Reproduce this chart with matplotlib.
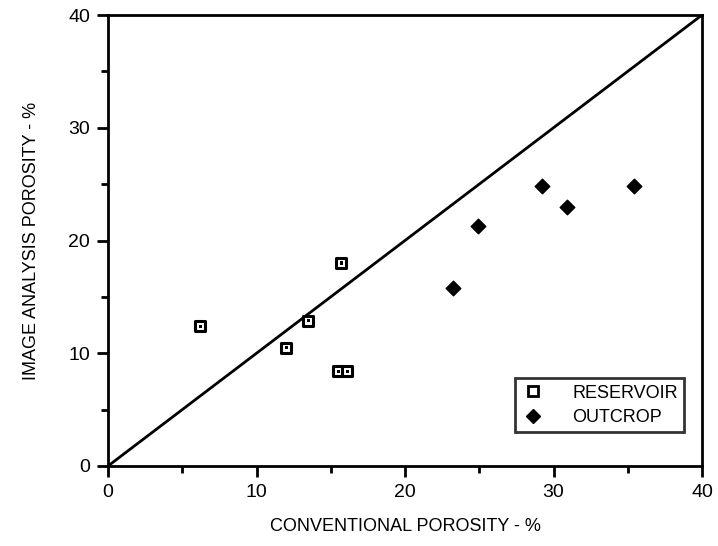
import matplotlib
matplotlib.use("Agg")
import matplotlib.pyplot as plt
from matplotlib.lines import Line2D

plt.rcParams['font.family'] = ['Liberation Sans', 'DejaVu Sans']

res_x = [6.2, 12.0, 13.5, 15.7, 15.5, 16.1]
res_y = [12.4, 10.5, 12.9, 18.0, 8.4, 8.4]
out_x = [23.2, 24.9, 29.2, 30.9, 35.4]
out_y = [15.8, 21.3, 24.8, 23.0, 24.8]
x_ticks = [0, 10, 20, 30, 40]
y_ticks = [0, 10, 20, 30, 40]
x_label = "CONVENTIONAL POROSITY - %"
y_label = "IMAGE ANALYSIS POROSITY - %"

fig = plt.figure(figsize=(7.18, 5.46), dpi=100)
ax = fig.add_axes([108/718, 1-466/546, (702-108)/718, (466-15)/546])

ax.plot([0, 40], [0, 40], color='black', lw=2.0, zorder=2)
ax.scatter(res_x, res_y, marker='s', s=55, facecolor='white', edgecolor='black',
           linewidths=2.2, zorder=3)
ax.scatter(res_x, res_y, marker='s', s=5, facecolor='black', edgecolor='none', zorder=4)
ax.scatter(out_x, out_y, marker='D', s=55, facecolor='black', edgecolor='black', zorder=3)

ax.set_xlim(0, 40)
ax.set_ylim(0, 40)
ax.set_xticks(x_ticks)
ax.set_yticks(y_ticks)
ax.set_xticks([5, 15, 25, 35], minor=True)
ax.set_yticks([5, 15, 25, 35], minor=True)
ax.tick_params(which='major', direction='out', length=8, width=2, labelsize=14, pad=5)
ax.tick_params(which='minor', direction='out', length=5, width=2)
for s in ax.spines.values():
    s.set_linewidth(2)

ax.set_xlabel(x_label, fontsize=13, labelpad=12)
ax.set_ylabel(y_label, fontsize=13, labelpad=20)

handles = [
    Line2D([], [], marker='s', ls='none', markersize=7, markerfacecolor='white',
           markeredgecolor='black', markeredgewidth=2),
    Line2D([], [], marker='D', ls='none', markersize=7, markerfacecolor='black',
           markeredgecolor='black'),
]
leg = ax.legend(handles, ['RESERVOIR', 'OUTCROP'], loc='lower right',
                bbox_to_anchor=(0.970, 0.075), borderaxespad=0, fontsize=13,
                frameon=True, fancybox=False, edgecolor='black', handlelength=1.2,
                handletextpad=1.6, borderpad=0.35, labelspacing=0.4)
leg.get_frame().set_linewidth(2)

fig.savefig("out.png", dpi=100)
